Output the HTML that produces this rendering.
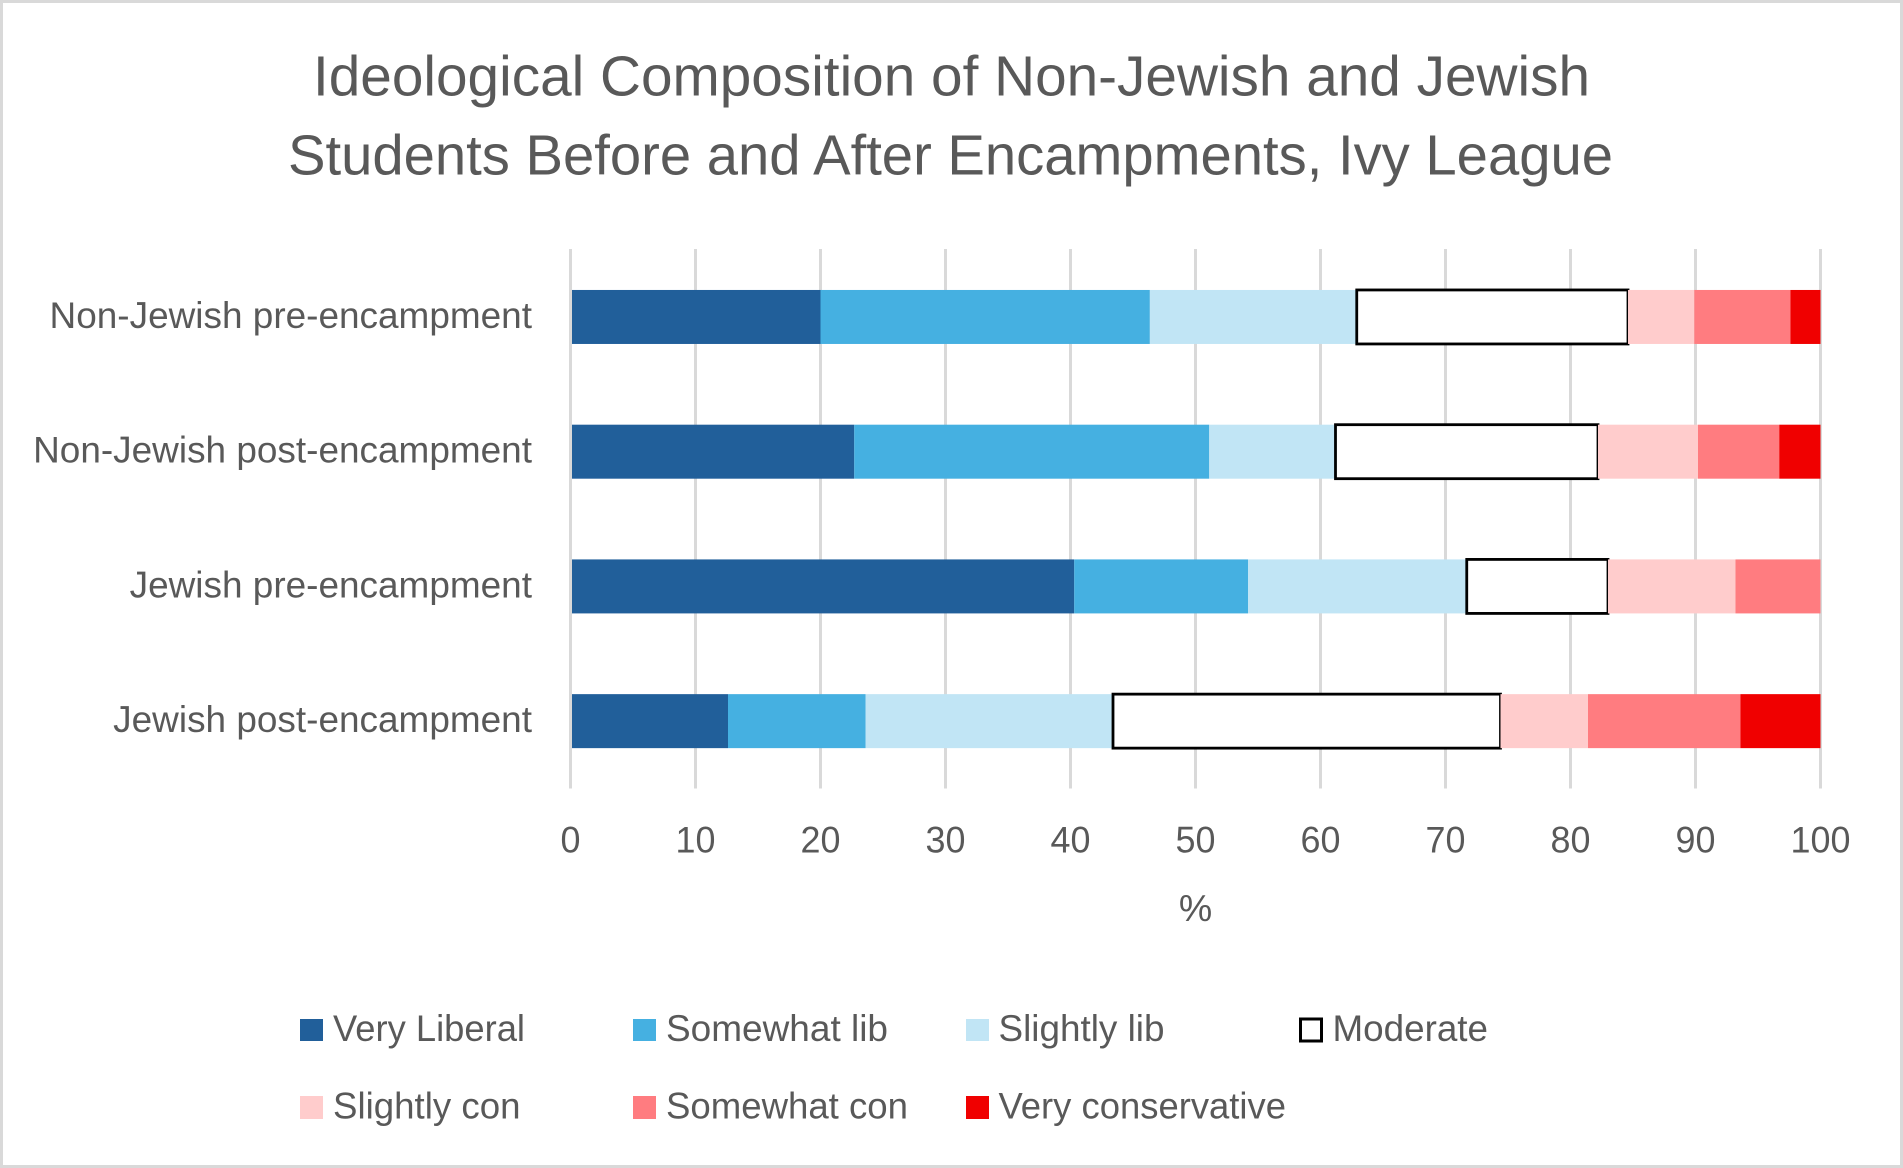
<!DOCTYPE html>
<html lang="en">
<head>
<meta charset="utf-8">
<title>Ideological Composition of Non-Jewish and Jewish Students</title>
<style>
html,body{margin:0;padding:0;background:#fff;}
svg{display:block;}
text{font-family:"Liberation Sans",sans-serif;fill:#595959;}
.title{font-size:57px;}
.lbl{font-size:37.5px;}
.tick{font-size:37px;}
</style>
</head>
<body>
<svg id="chart" xmlns="http://www.w3.org/2000/svg" width="1903" height="1168" viewBox="0 0 1903 1168">
  <rect x="1.5" y="1.5" width="1900" height="1165" fill="#ffffff" stroke="#d9d9d9" stroke-width="3"/>
  <g>
    <text class="title" x="313" y="95.5" textLength="1277" lengthAdjust="spacingAndGlyphs">Ideological Composition of Non-Jewish and Jewish</text>
    <text class="title" x="288" y="174.5" textLength="1325" lengthAdjust="spacingAndGlyphs">Students Before and After Encampments, Ivy League</text>
  </g>
  <g id="gridlines"></g>
  <g id="bars"></g>
  <g id="axis-line"></g>
  <g id="category-labels"></g>
  <g id="tick-labels"></g>
  <text class="lbl" x="1195.5" y="921" text-anchor="middle">%</text>
  <g>
    <g>
      <rect x="300" y="1019" width="23" height="22" fill="#215f9a"/>
      <text class="lbl" x="333" y="1041" textLength="192" lengthAdjust="spacingAndGlyphs">Very Liberal</text>
    </g>
    <g>
      <rect x="633" y="1019" width="23" height="22" fill="#45b0e1"/>
      <text class="lbl" x="666" y="1041" textLength="222" lengthAdjust="spacingAndGlyphs">Somewhat lib</text>
    </g>
    <g>
      <rect x="966" y="1019" width="23" height="22" fill="#c1e5f5"/>
      <text class="lbl" x="998.5" y="1041" textLength="166" lengthAdjust="spacingAndGlyphs">Slightly lib</text>
    </g>
    <g>
      <rect x="1300.5" y="1019" width="21" height="22" fill="#ffffff" stroke="#000000" stroke-width="3"/>
      <text class="lbl" x="1332.5" y="1041" textLength="155.5" lengthAdjust="spacingAndGlyphs">Moderate</text>
    </g>
    <g>
      <rect x="300" y="1096" width="23" height="23" fill="#ffcccc"/>
      <text class="lbl" x="333" y="1118.5" textLength="187.5" lengthAdjust="spacingAndGlyphs">Slightly con</text>
    </g>
    <g>
      <rect x="633" y="1096" width="23" height="23" fill="#ff7c80"/>
      <text class="lbl" x="666" y="1118.5" textLength="242" lengthAdjust="spacingAndGlyphs">Somewhat con</text>
    </g>
    <g>
      <rect x="966" y="1096" width="23" height="23" fill="#f00000"/>
      <text class="lbl" x="998.5" y="1118.5" textLength="287.5" lengthAdjust="spacingAndGlyphs">Very conservative</text>
    </g>
  </g>
</svg>
<script>
const categories = ["Non-Jewish pre-encampment", "Non-Jewish post-encampment", "Jewish pre-encampment", "Jewish post-encampment"];
const veryLiberal = [20.0, 22.7, 40.3, 12.6];
const somewhatLib = [26.35, 28.4, 13.9, 11.0];
const slightlyLib = [16.55, 10.1, 17.5, 19.8];
const moderate = [21.7, 21.0, 11.3, 31.0];
const slightlyCon = [5.3, 8.0, 10.2, 7.0];
const somewhatCon = [7.7, 6.5, 6.8, 12.2];
const veryConservative = [2.4, 3.3, 0, 6.4];
const xTicks = [0, 10, 20, 30, 40, 50, 60, 70, 80, 90, 100];

const seriesList = [veryLiberal, somewhatLib, slightlyLib, moderate, slightlyCon, somewhatCon, veryConservative];
const seriesKeys = ["very-liberal", "somewhat-lib", "slightly-lib", "moderate", "slightly-con", "somewhat-con", "very-conservative"];
const seriesFills = ["#215f9a", "#45b0e1", "#c1e5f5", "#ffffff", "#ffcccc", "#ff7c80", "#f00000"];

const NS = "http://www.w3.org/2000/svg";
const plotLeft = 570.5, plotRight = 1820.5, plotTop = 249, plotBottom = 788.5;
const bandTop = 249.6;
const barHeight = 54;

function xScale(v) {
  return plotLeft + (v / 100) * (plotRight - plotLeft);
}
function bandCenter(i) {
  return bandTop + (plotBottom - bandTop) * (i + 0.5) / categories.length;
}

const gridGroup = document.getElementById("gridlines");
const axisGroup = document.getElementById("axis-line");
const tickGroup = document.getElementById("tick-labels");
xTicks.forEach(function (t) {
  const line = document.createElementNS(NS, "line");
  line.setAttribute("x1", xScale(t));
  line.setAttribute("x2", xScale(t));
  line.setAttribute("y1", plotTop);
  line.setAttribute("y2", plotBottom);
  line.setAttribute("stroke", "#d9d9d9");
  line.setAttribute("stroke-width", "3");
  
  
  (t === 0 ? axisGroup : gridGroup).appendChild(line);

  const label = document.createElementNS(NS, "text");
  label.setAttribute("class", "tick");
  label.setAttribute("x", xScale(t));
  label.setAttribute("y", 852.5);
  label.setAttribute("text-anchor", "middle");
  label.textContent = String(t);
  
  
  tickGroup.appendChild(label);
  const tickWidth = label.getComputedTextLength();
  label.setAttribute("textLength", tickWidth * 0.97);
  label.setAttribute("lengthAdjust", "spacingAndGlyphs");
});

const catGroup = document.getElementById("category-labels");
categories.forEach(function (c, i) {
  const label = document.createElementNS(NS, "text");
  label.setAttribute("class", "lbl");
  label.setAttribute("x", 532);
  label.setAttribute("y", bandCenter(i) + 11);
  label.setAttribute("text-anchor", "end");
  label.textContent = c;
  
  
  catGroup.appendChild(label);
  const natural = label.getComputedTextLength();
  label.setAttribute("textLength", natural * 0.985);
  label.setAttribute("lengthAdjust", "spacingAndGlyphs");
});

const barGroup = document.getElementById("bars");
categories.forEach(function (c, i) {
  let cumulative = 0;
  seriesList.forEach(function (series, s) {
    const value = series[i];
    const rect = document.createElementNS(NS, "rect");
    rect.setAttribute("x", xScale(cumulative));
    rect.setAttribute("y", bandCenter(i) - barHeight / 2);
    rect.setAttribute("width", xScale(cumulative + value) - xScale(cumulative));
    rect.setAttribute("height", barHeight);
    rect.setAttribute("fill", seriesFills[s]);
    if (seriesKeys[s] === "moderate") {
      rect.setAttribute("stroke", "#000000");
      rect.setAttribute("stroke-width", "2.8");
    }
    
    
    rect.setAttribute("data-series", seriesKeys[s]);
    barGroup.appendChild(rect);
    cumulative += value;
  });
});
</script>
</body>
</html>
